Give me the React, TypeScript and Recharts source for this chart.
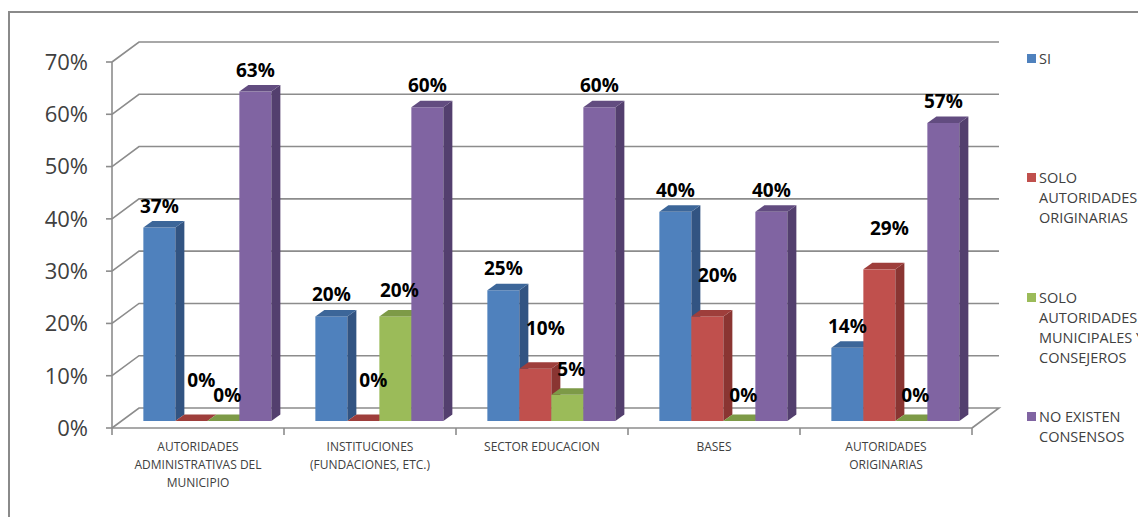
import React from "react";
import {
  BarChart,
  Bar,
  XAxis,
  YAxis,
  CartesianGrid,
  Legend,
  LabelList,
} from "recharts";

/** categories on the x axis */
const categories = [
  "AUTORIDADES ADMINISTRATIVAS DEL MUNICIPIO",
  "INSTITUCIONES (FUNDACIONES, ETC.)",
  "SECTOR EDUCACION",
  "BASES",
  "AUTORIDADES ORIGINARIAS",
];

/** series names (legend) */
const seriesNames = [
  "SI",
  "SOLO AUTORIDADES ORIGINARIAS",
  "SOLO AUTORIDADES MUNICIPALES Y CONSEJEROS",
  "NO EXISTEN CONSENSOS",
];

/** values in percent, one array per series */
const si = [37, 20, 25, 40, 14];
const soloOriginarias = [0, 0, 10, 20, 29];
const soloMunicipales = [0, 20, 5, 0, 0];
const noExisten = [63, 60, 60, 40, 57];

const yTicks = [0, 10, 20, 30, 40, 50, 60, 70];

const seriesValues = [si, soloOriginarias, soloMunicipales, noExisten];
const keys = ["s0", "s1", "s2", "s3"];

const chartData = categories.map((name, i) => {
  const row: Record<string, string | number> = { name };
  seriesValues.forEach((vals, s) => (row[keys[s]] = vals[i]));
  return row;
});

/** face colours: front / side / top (Office 2007 palette, shaded) */
const faces = [
  { front: "#4F81BD", side: "#325482", top: "#3C6699" },
  { front: "#C0504D", side: "#8A3532", top: "#9E3E3B" },
  { front: "#9BBB59", side: "#6E8A3C", top: "#7D9A47" },
  { front: "#8064A2", side: "#533F6E", top: "#624C80" },
];

/** where each series' value label sits, relative to its bar top */
const labelOffsets = [
  { dx: 0, dy: -22 },
  { dx: 10, dy: -41 },
  { dx: 4, dy: -26 },
  { dx: 0, dy: -22 },
];

// layout
const W = 1138;
const H = 509;
const PLOT_LEFT = 104;
const PLOT_TOP = 54;
const PLOT_W = 860;
const PLOT_H = 366;
const FLOOR_DX = 27; // depth of the floor / walls
const FLOOR_DY = 20;
const SHIFT_X = 9; // bars stand a little behind the front edge
const SHIFT_Y = -7;
const BAR_DX = 9; // bar depth
const BAR_DY = 6.5;
const GRID = "#8C8C8C";
const TEXT = "#404040";
const FONT = "'Open Sans', 'DejaVu Sans', sans-serif";
const WRAP_CHARS = 20;

function wrapWords(s: string, max: number) {
  const lines: string[] = [];
  let cur = "";
  s.split(" ").forEach((w) => {
    const next = cur ? `${cur} ${w}` : w;
    if (next.length > max && cur) {
      lines.push(cur);
      cur = w;
    } else cur = next;
  });
  if (cur) lines.push(cur);
  return lines;
}

function Bar3D(props: any) {
  const { x, y, width, height, idx } = props;
  if (x == null || y == null) return null;
  const c = faces[idx];
  const fx = x + SHIFT_X;
  const fy = y + SHIFT_Y;
  const w = width;
  const h = Math.max(0, height);
  return (
    <g>
      <rect x={fx} y={fy} width={w} height={h} fill={c.front} />
      <polygon
        points={`${fx + w},${fy} ${fx + w + BAR_DX},${fy - BAR_DY} ${fx + w + BAR_DX},${fy + h - BAR_DY} ${fx + w},${fy + h}`}
        fill={c.side}
      />
      <polygon
        points={`${fx},${fy} ${fx + BAR_DX},${fy - BAR_DY} ${fx + w + BAR_DX},${fy - BAR_DY} ${fx + w},${fy}`}
        fill={c.top}
      />
    </g>
  );
}

function makeLabel(idx: number) {
  const o = labelOffsets[idx];
  return (p: any) => {
    const { x, y, width, value } = p;
    return (
      <text
        x={x + width / 2 + SHIFT_X + o.dx}
        y={y + SHIFT_Y + o.dy}
        textAnchor="middle"
        dominantBaseline="central"
        fontFamily={FONT}
        fontWeight={700}
        fontSize={19}
        fill="#000"
      >
        {value}%
      </text>
    );
  };
}

/** back wall grid line + diagonal on the side wall */
function WallLine(p: any) {
  const { x1, y1, x2, index } = p;
  const bottom = Math.abs(y1 - (PLOT_TOP + PLOT_H)) < 0.5;
  let d = `M${x1},${y1} L${x1 + FLOOR_DX},${y1 - FLOOR_DY} L${x2 + FLOOR_DX},${y1 - FLOOR_DY}`;
  if (bottom) d += ` L${x2},${y1}`;
  return (
    <path
      key={`wall-${index}`}
      d={d}
      fill="none"
      stroke={GRID}
      strokeWidth={1.6}
    />
  );
}

function CategoryTick(p: any) {
  const { x, y, payload, index } = p;
  const band = PLOT_W / categories.length;
  const lines = wrapWords(String(payload.value), WRAP_CHARS);
  return (
    <g>
      <line x1={x - band / 2} y1={y} x2={x - band / 2} y2={y + 7} stroke={GRID} strokeWidth={1.6} />
      {index === categories.length - 1 && (
        <line x1={x + band / 2} y1={y} x2={x + band / 2} y2={y + 7} stroke={GRID} strokeWidth={1.6} />
      )}
      <text
        x={x}
        y={y + 23}
        textAnchor="middle"
        fontFamily={FONT}
        fontSize={12}
        fill={TEXT}
      >
        {lines.map((l, i) => (
          <tspan key={i} x={x} dy={i === 0 ? 0 : 18}>
            {l}
          </tspan>
        ))}
      </text>
    </g>
  );
}

function LegendBox(props: any) {
  const { payload } = props;
  return (
    <div style={{ fontFamily: FONT, fontSize: 14.5, color: TEXT, lineHeight: "20px" }}>
      {(payload || []).map((it: any) => (
        <div key={it.value} style={{ display: "flex", height: 119.3 }}>
          <span
            style={{
              width: 9,
              height: 9,
              marginTop: 5,
              marginRight: 3,
              flex: "none",
              background: it.color,
            }}
          />
          <span style={{ width: 130 }}>{it.value}</span>
        </div>
      ))}
    </div>
  );
}

export default function App() {
  return (
    <div style={{ position: "relative", width: W, height: H, overflow: "hidden" }}>
      <style>{"html,body{overflow:hidden}"}</style>
      <div
        style={{
          position: "absolute",
          left: 0,
          top: 3,
          width: 1400,
          height: 800,
          borderTop: "2px solid #8A8A8A",
          borderLeft: "2px solid #8A8A8A",
        }}
      />
      <div style={{ position: "absolute", left: 0, top: 0 }}>
        <BarChart
          width={W}
          height={H}
          data={chartData}
          margin={{ top: PLOT_TOP, left: 0, right: W - PLOT_LEFT - PLOT_W, bottom: 0 }}
          barCategoryGap="13%"
          barGap={0}
        >
          <CartesianGrid vertical={false} horizontal={WallLine as any} />
          <XAxis
            dataKey="name"
            height={H - PLOT_TOP - PLOT_H}
            axisLine={{ stroke: GRID, strokeWidth: 1.6 }}
            tickLine={false}
            tickSize={0}
            tickMargin={0}
            interval={0}
            tick={<CategoryTick />}
          />
          <YAxis
            width={PLOT_LEFT}
            domain={[0, 70]}
            ticks={yTicks}
            tickFormatter={(v) => `${v}%`}
            axisLine={{ stroke: GRID, strokeWidth: 1.6 }}
            tickLine={{ stroke: GRID, strokeWidth: 1.6 }}
            tickSize={6}
            tickMargin={18}
            tick={{ fill: TEXT, fontSize: 22, fontFamily: FONT }}
          />
          <Legend
            layout="horizontal"
            align="center"
            verticalAlign="middle"
            itemSorter="dataKey"
            content={<LegendBox />}
            wrapperStyle={{ position: "absolute", left: 1019, top: 41, width: 150 }}
          />
          {keys.map((k, i) => (
            <Bar
              key={k}
              dataKey={k}
              name={seriesNames[i]}
              fill={faces[i].front}
              isAnimationActive={false}
              shape={(p: any) => <Bar3D {...p} idx={i} />}
            >
              <LabelList dataKey={k} content={makeLabel(i)} />
            </Bar>
          ))}
        </BarChart>
      </div>
    </div>
  );
}
